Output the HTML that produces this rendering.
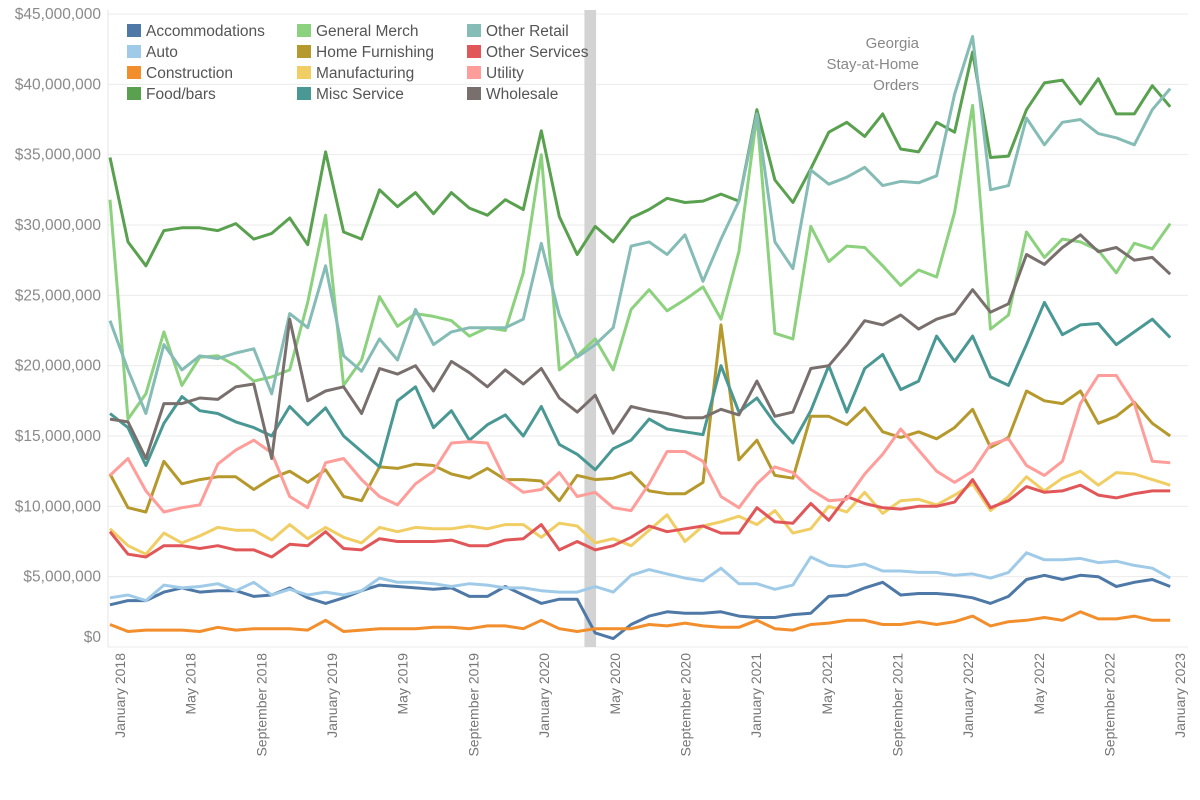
<!DOCTYPE html>
<html><head><meta charset="utf-8"><style>
html,body{margin:0;padding:0;background:#fff;}
svg{display:block;font-family:"Liberation Sans",sans-serif;}
</style></head><body>
<svg id="chart" width="1200" height="800"></svg>
<script>
const categories=["Accommodations","Auto","Construction","Food/bars","General Merch","Home Furnishing","Manufacturing","Misc Service","Other Retail","Other Services","Utility","Wholesale"];
const colors=["#4e79a7","#a0cbe8","#f28e2b","#59a14f","#8cd17d","#b6992d","#f1ce63","#499894","#86bcb6","#e15759","#ff9d9a","#79706e"];
const accommodations=[3.0,3.3,3.3,3.9,4.2,3.9,4.0,4.0,3.6,3.7,4.2,3.5,3.1,3.5,4.0,4.4,4.3,4.2,4.1,4.2,3.6,3.6,4.3,3.7,3.1,3.4,3.4,1.0,0.6,1.6,2.2,2.5,2.4,2.4,2.5,2.2,2.1,2.1,2.3,2.4,3.6,3.7,4.2,4.6,3.7,3.8,3.8,3.7,3.5,3.1,3.6,4.8,5.1,4.8,5.1,5.0,4.3,4.6,4.8,4.3];
const auto=[3.5,3.7,3.3,4.4,4.2,4.3,4.5,4.0,4.6,3.7,4.1,3.7,3.9,3.7,4.0,4.9,4.6,4.6,4.5,4.3,4.5,4.4,4.2,4.2,4.0,3.9,3.9,4.3,3.9,5.1,5.5,5.2,4.9,4.7,5.6,4.5,4.5,4.1,4.4,6.4,5.8,5.7,5.9,5.4,5.4,5.3,5.3,5.1,5.2,4.9,5.3,6.7,6.2,6.2,6.3,6.0,6.1,5.8,5.6,4.9];
const construction=[1.6,1.1,1.2,1.2,1.2,1.1,1.4,1.2,1.3,1.3,1.3,1.2,1.9,1.1,1.2,1.3,1.3,1.3,1.4,1.4,1.3,1.5,1.5,1.3,1.9,1.3,1.1,1.3,1.3,1.3,1.6,1.5,1.7,1.5,1.4,1.4,1.9,1.3,1.2,1.6,1.7,1.9,1.9,1.6,1.6,1.8,1.6,1.8,2.2,1.5,1.8,1.9,2.1,1.9,2.5,2.0,2.0,2.2,1.9,1.9];
const foodBars=[34.8,28.8,27.1,29.6,29.8,29.8,29.6,30.1,29.0,29.4,30.5,28.6,35.2,29.5,29.0,32.5,31.3,32.3,30.8,32.3,31.2,30.7,31.8,31.1,36.7,30.6,27.9,29.9,28.8,30.5,31.1,31.9,31.6,31.7,32.2,31.7,38.2,33.2,31.6,34.0,36.6,37.3,36.3,37.9,35.4,35.2,37.3,36.6,42.3,34.8,34.9,38.2,40.1,40.3,38.6,40.4,37.9,37.9,39.9,38.4];
const generalMerch=[31.8,16.2,18.0,22.4,18.6,20.6,20.7,20.0,18.9,19.2,19.7,24.5,30.7,18.6,20.4,24.9,22.8,23.7,23.5,23.2,22.1,22.7,22.5,26.6,35.0,19.7,20.7,21.9,19.7,24.0,25.4,23.9,24.7,25.6,23.3,28.1,37.8,22.3,21.9,29.9,27.4,28.5,28.4,27.1,25.7,26.8,26.3,30.9,38.5,22.6,23.6,29.5,27.7,29.0,28.8,28.2,26.6,28.7,28.3,30.1];
const homeFurnishing=[12.3,9.9,9.6,13.2,11.6,11.9,12.1,12.1,11.2,12.0,12.5,11.7,12.6,10.7,10.4,12.8,12.7,13.0,12.9,12.3,12.0,12.7,11.9,11.9,11.8,10.4,12.2,11.9,12.0,12.4,11.1,10.9,10.9,11.7,22.9,13.3,14.7,12.2,12.0,16.4,16.4,15.8,17.0,15.3,14.9,15.3,14.8,15.6,16.9,14.2,14.9,18.2,17.5,17.3,18.2,15.9,16.4,17.4,15.9,15.0];
const manufacturing=[8.4,7.2,6.6,8.1,7.4,7.9,8.5,8.3,8.3,7.6,8.7,7.7,8.5,7.8,7.4,8.5,8.2,8.5,8.4,8.4,8.6,8.4,8.7,8.7,7.8,8.8,8.6,7.4,7.7,7.2,8.3,9.4,7.5,8.6,8.9,9.3,8.7,9.7,8.1,8.4,10.0,9.6,11.0,9.5,10.4,10.5,10.1,10.8,11.6,9.7,10.7,12.1,11.1,12.0,12.5,11.5,12.4,12.3,11.9,11.5];
const miscService=[16.6,15.6,12.9,15.9,17.8,16.8,16.6,16.0,15.6,15.0,17.1,15.8,17.0,15.0,13.9,12.8,17.5,18.5,15.6,16.8,14.7,15.8,16.5,15.0,17.1,14.4,13.7,12.6,14.1,14.7,16.2,15.5,15.3,15.1,20.0,16.7,17.7,15.9,14.5,16.8,20.0,16.7,19.8,20.8,18.3,18.9,22.1,20.3,22.1,19.2,18.6,21.5,24.5,22.2,22.9,23.0,21.5,22.4,23.3,22.0];
const otherRetail=[23.2,19.7,16.6,21.5,19.7,20.7,20.5,20.9,21.2,18.0,23.7,22.7,27.1,20.7,19.6,21.9,20.4,24.0,21.5,22.4,22.7,22.7,22.7,23.3,28.7,23.6,20.6,21.5,22.7,28.5,28.8,27.9,29.3,26.0,29.0,31.7,37.9,28.8,26.9,33.9,32.9,33.4,34.1,32.8,33.1,33.0,33.5,39.3,43.4,32.5,32.8,37.6,35.7,37.3,37.5,36.5,36.2,35.7,38.2,39.7];
const otherServices=[8.2,6.6,6.4,7.2,7.2,7.0,7.2,6.9,6.9,6.4,7.3,7.2,8.2,7.0,6.9,7.7,7.5,7.5,7.5,7.6,7.2,7.2,7.6,7.7,8.7,6.9,7.5,6.9,7.2,7.8,8.6,8.2,8.4,8.6,8.1,8.1,9.9,8.9,8.8,10.2,9.0,10.7,10.2,9.9,9.8,10.0,10.0,10.3,11.9,9.9,10.4,11.4,11.0,11.1,11.5,10.8,10.6,10.9,11.1,11.1];
const utility=[12.2,13.4,11.1,9.6,9.9,10.1,13.0,14.0,14.7,13.8,10.7,9.9,13.1,13.4,11.9,10.7,10.1,11.6,12.5,14.5,14.6,14.5,11.9,11.0,11.2,12.4,10.7,11.0,9.9,9.7,11.6,13.9,13.9,13.2,10.7,9.9,11.6,12.8,12.4,11.2,10.4,10.5,12.3,13.7,15.5,14.0,12.5,11.7,12.5,14.4,14.8,12.9,12.2,13.2,17.3,19.3,19.3,17.3,13.2,13.1];
const wholesale=[16.2,16.0,13.4,17.3,17.3,17.7,17.6,18.5,18.7,13.4,23.3,17.5,18.2,18.5,16.6,19.8,19.4,20.0,18.2,20.3,19.5,18.5,19.7,18.7,19.8,17.7,16.7,17.9,15.2,17.1,16.8,16.6,16.3,16.3,16.9,16.5,18.9,16.4,16.7,19.8,20.0,21.5,23.2,22.9,23.6,22.6,23.3,23.7,25.4,23.8,24.4,27.9,27.2,28.4,29.3,28.1,28.4,27.5,27.7,26.5];
const seriesValues=[accommodations,auto,construction,foodBars,generalMerch,homeFurnishing,manufacturing,miscService,otherRetail,otherServices,utility,wholesale];
const yTicks=[0,5,10,15,20,25,30,35,40,45];
const yTickLabels=["$0","$5,000,000","$10,000,000","$15,000,000","$20,000,000","$25,000,000","$30,000,000","$35,000,000","$40,000,000","$45,000,000"];
const xTickMonths=[0,4,8,12,16,20,24,28,32,36,40,44,48,52,56,60];
const xTickLabels=["January 2018","May 2018","September 2018","January 2019","May 2019","September 2019","January 2020","May 2020","September 2020","January 2021","May 2021","September 2021","January 2022","May 2022","September 2022","January 2023"];
const stayHomeStart=26.4, stayHomeEnd=27.05;

const NS="http://www.w3.org/2000/svg";
const svg=document.getElementById("chart");
const L=108,R=1188,T=14,B=647;
const xs=i=>110+i*17.97;
const ys=v=>B-(v/45)*(B-T);
function mk(tag,attrs,parent){const e=document.createElementNS(NS,tag);for(const k in attrs)e.setAttribute(k,attrs[k]);(parent||svg).appendChild(e);return e;}

const grid=mk("g",{});


yTicks.forEach((t,k)=>{
  const ln=mk("line",{x1:L,x2:R,y1:ys(t),y2:ys(t),stroke:"#ebebeb","stroke-width":1},grid);
  
  
  const ty=k===0?ys(t)-5:ys(t)+5;
  const tx=mk("text",{x:101,y:ty,"text-anchor":"end","font-size":15.5,fill:"#8a8a8a"});
  tx.textContent=yTickLabels[k];
  
  
});
const axl=mk("line",{x1:L,x2:L,y1:T-4,y2:B,stroke:"#e4e4e4","stroke-width":1});



const band=mk("rect",{x:xs(stayHomeStart),y:T-4,width:xs(stayHomeEnd)-xs(stayHomeStart),height:B-T+4,fill:"#d3d3d3"});



xTickMonths.forEach((m,k)=>{
  const x=120+m*17.67;
  const tx=mk("text",{x:0,y:0,transform:`translate(${x+5},${653}) rotate(-90)`,"text-anchor":"end","font-size":14,fill:"#777"});
  tx.textContent=xTickLabels[k];
  
  
});

const lines=mk("g",{});


seriesValues.forEach((vals,s)=>{
  const d=vals.map((v,i)=>(i?"L":"M")+xs(i).toFixed(1)+","+ys(v).toFixed(1)).join(" ");
  const p=mk("path",{d:d,fill:"none",stroke:colors[s],"stroke-width":3,"stroke-linejoin":"round"},lines);
  
  
});

const leg=mk("g",{});


categories.forEach((c,k)=>{
  const col=Math.floor(k/4),row=k%4;
  const x=127+col*170,y=24+row*21;
  const g=mk("g",{},leg);
  
  
  mk("rect",{x:x,y:y,width:14,height:13,fill:colors[k]},g);
  const t=mk("text",{x:x+19,y:y+12,"font-size":15.5,fill:"#555"},g);
  t.textContent=c;
});

const ann=mk("text",{"font-size":15,fill:"#888","text-anchor":"end"});


["Georgia","Stay-at-Home","Orders"].forEach((s,k)=>{const ts=mk("tspan",{x:919,y:48+k*21},ann);ts.textContent=s;});
</script>
</body></html>
